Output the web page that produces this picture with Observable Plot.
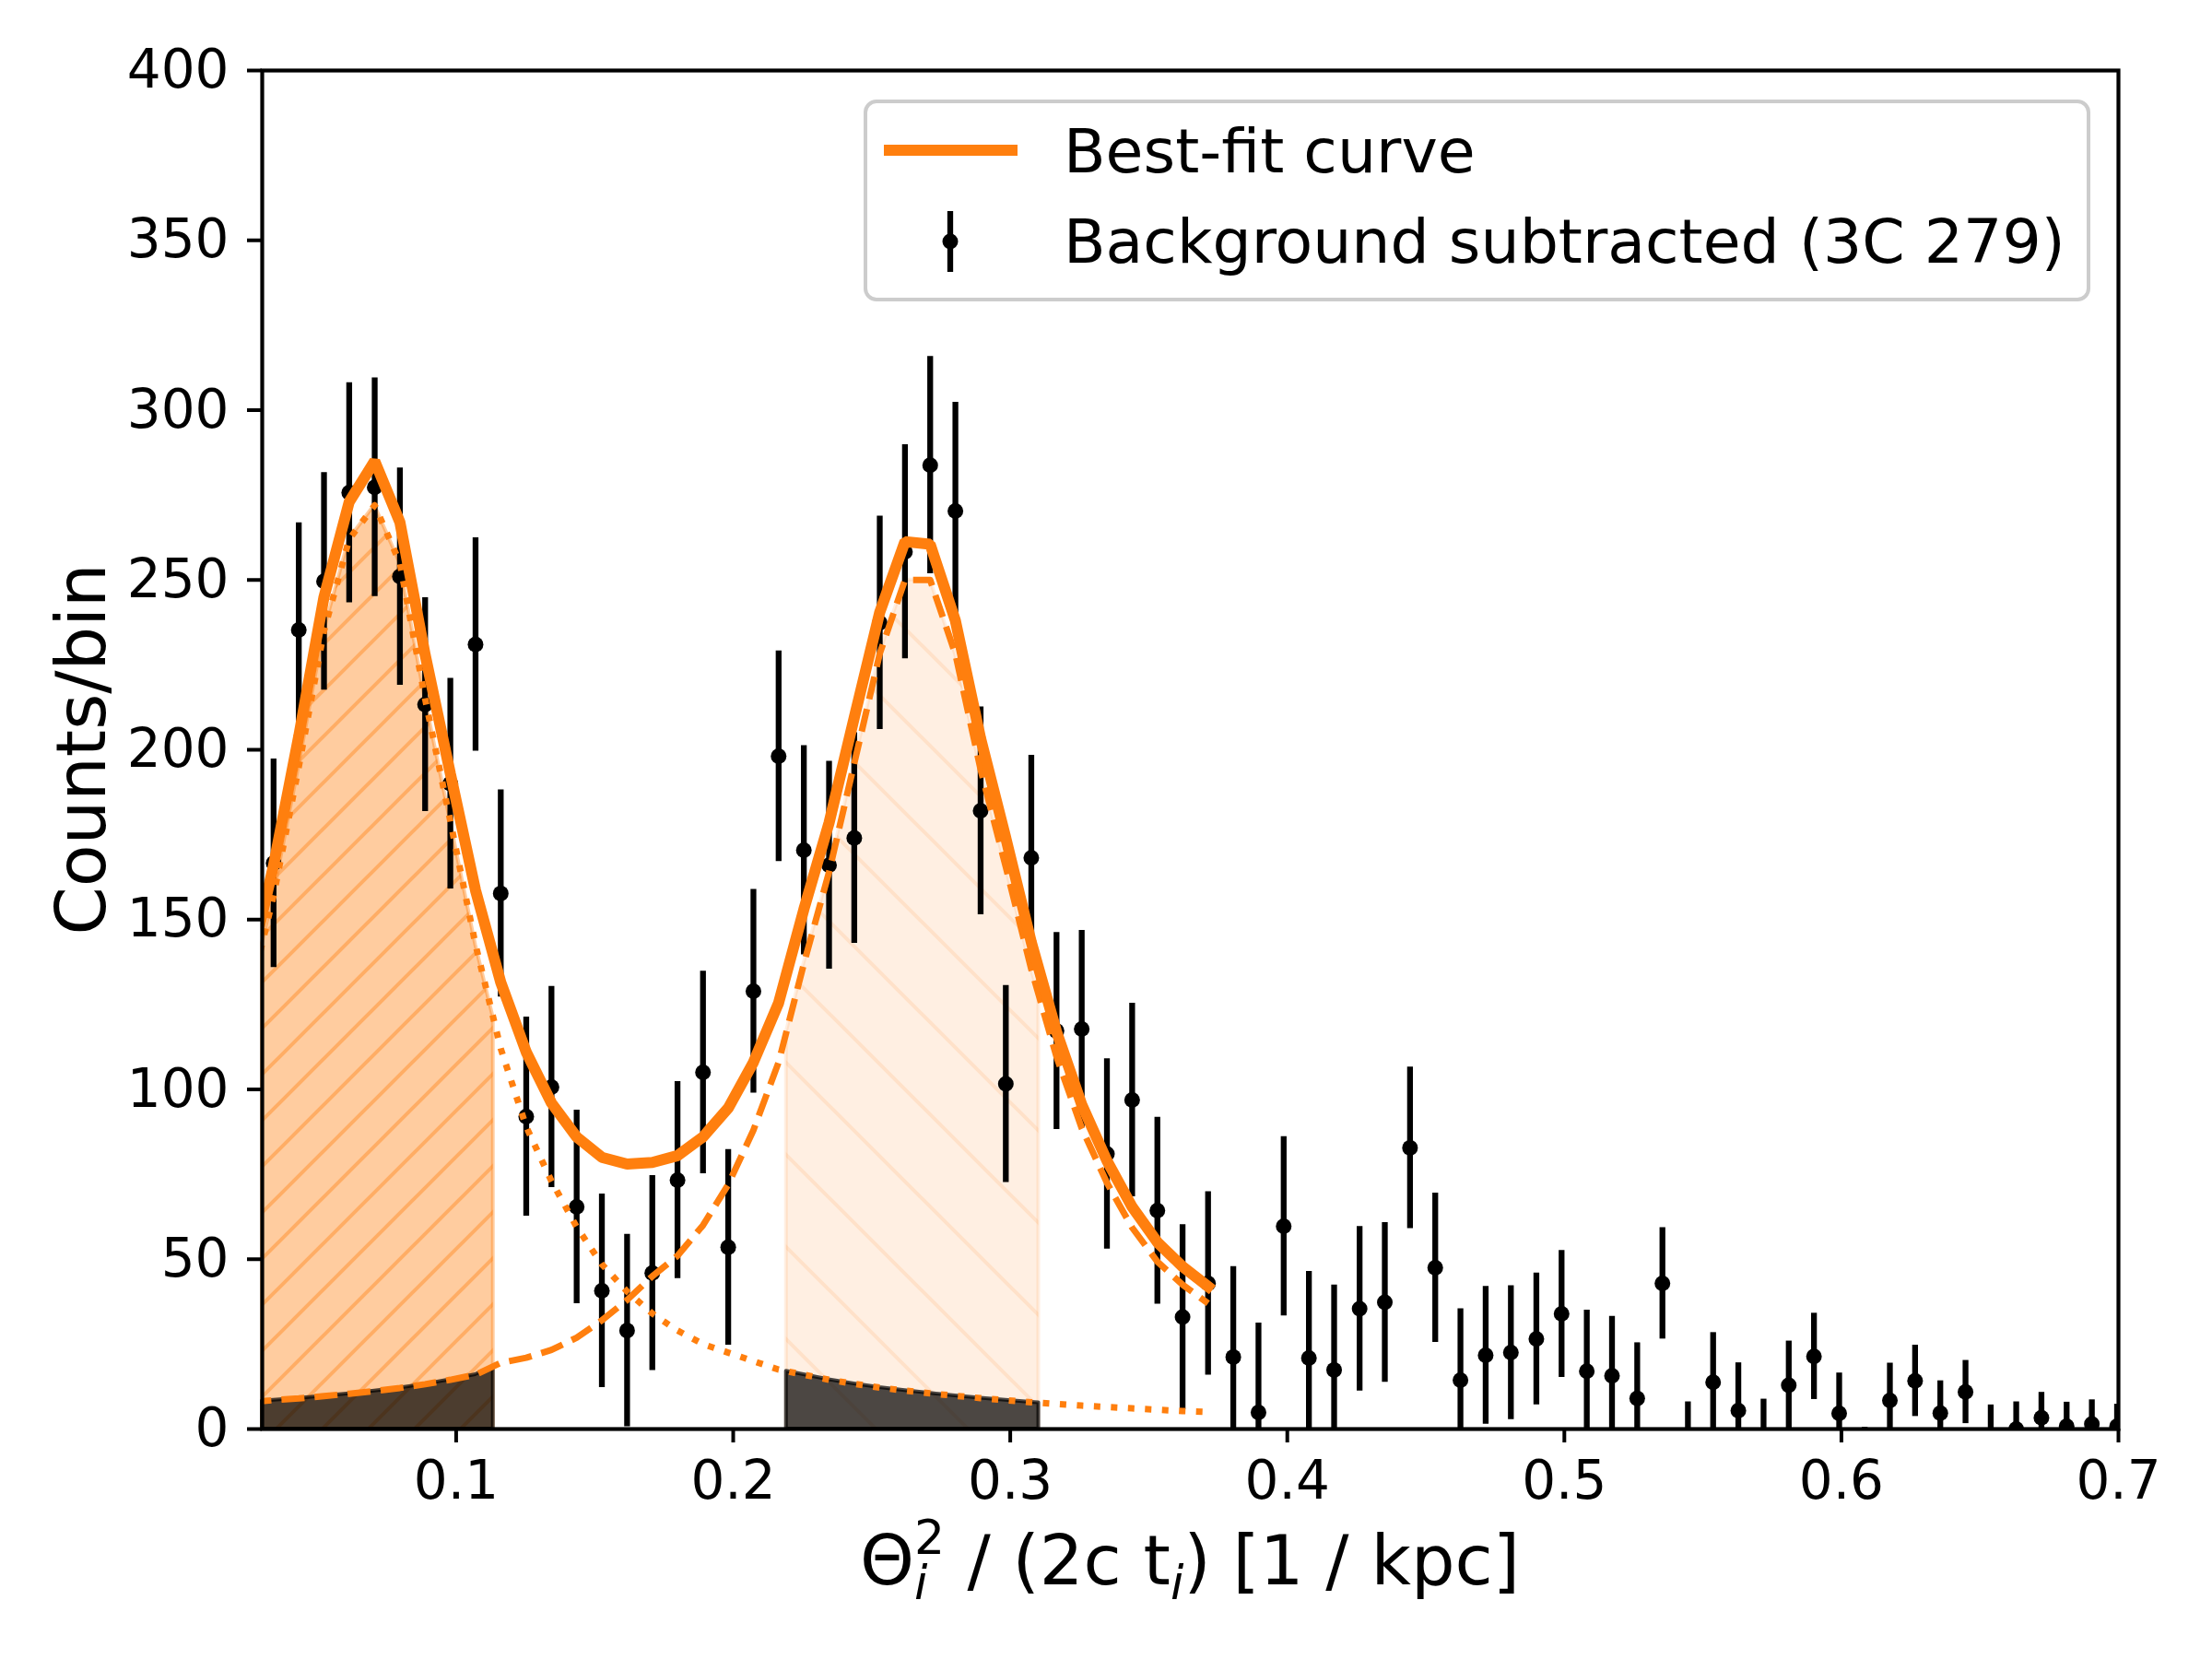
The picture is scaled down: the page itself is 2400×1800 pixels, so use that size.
<!DOCTYPE html>
<html><head><meta charset="utf-8">
<script src="https://cdn.jsdelivr.net/npm/d3@7"></script>
<script src="https://cdn.jsdelivr.net/npm/@observablehq/plot@0.6"></script>
<style>
body{margin:0;background:#fff;}
#chart{width:2400px;height:1800px;}
</style></head><body><div id="chart"></div>
<script>
// ---- data ----
const binX = [0.0341,0.0432,0.0523,0.0614,0.0706,0.0797,0.0888,0.0979,0.1070,0.1161,
  0.1253,0.1344,0.1435,0.1526,0.1617,0.1708,0.1799,0.1891,0.1982,0.2073,
  0.2164,0.2255,0.2346,0.2437,0.2529,0.2620,0.2711,0.2802,0.2893,0.2984,
  0.3076,0.3167,0.3258,0.3349,0.3440,0.3531,0.3622,0.3714,0.3805,0.3896,
  0.3987,0.4078,0.4169,0.4261,0.4352,0.4443,0.4534,0.4625,0.4716,0.4807,
  0.4899,0.4990,0.5081,0.5172,0.5263,0.5354,0.5446,0.5537,0.5628,0.5719,
  0.5810,0.5901,0.5992,0.6084,0.6175,0.6266,0.6357,0.6448,0.6539,0.6631,
  0.6722,0.6813,0.6904,0.6995];
const counts = [166.6,235.3,249.6,275.7,277.3,251,213.3,190,231,157.7,
  92,100.7,65.4,40.7,29,45.9,73.3,105,53.5,128.9,
  198.1,170.4,166,174,237.4,258.3,283.8,270.3,182,101.6,
  168.2,117.2,117.8,81,96.9,64.3,33,42.9,21.2,4.9,
  59.7,20.9,17.4,35.4,37.3,82.8,47.5,14.4,21.7,22.5,
  26.5,33.9,17,15.7,9,42.9,-8,13.8,5.4,-5,
  12.9,21.4,4.6,-11,8.4,14.2,4.7,10.9,-2.5,0,
  3.3,0.8,1.5,0.8];
const countErr = [30.7,31.5,32,32.4,32.2,32,31.5,31,31.4,30.5,
  29.3,29.6,28.5,28.5,28.3,28.7,29,29.8,28.8,30,
  31,30.8,30.6,31,31.4,31.5,32,32,30.6,29,
  30.2,29,29,28,28.5,27.5,27.2,27,26.6,26.3,
  26.4,25.5,25,24.2,23.5,23.8,22,21,20.3,19.7,
  19.4,18.7,18,17.5,16.4,16.4,16,14.6,14.1,13.8,
  13,12.7,11.9,11.5,11,10.5,9.5,9.3,9.6,8,
  7.5,7.1,7.1,6.5];

const curveX = [0.0250,0.0341,0.0432,0.0523,0.0614,0.0706,0.0797,0.0888,0.0979,0.1070,
  0.1161,0.1253,0.1344,0.1435,0.1526,0.1617,0.1708,0.1799,0.1891,0.1982,
  0.2073,0.2164,0.2255,0.2346,0.2437,0.2529,0.2620,0.2711,0.2802,0.2893,
  0.2984,0.3076,0.3167,0.3258,0.3349,0.3440,0.3531,0.3622,0.3714];
const bestFit = [134,166,204,245,273,285,267,228,193,158.6,
  131.5,111,96,86,80,78,78.5,80.5,86,94.5,
  108,125.5,153,178.5,209.5,240.5,261.3,260.5,238,203.3,
  174,143.3,117,95.5,79,65.4,55,47.8,42];
const comp1 = [126,157,195,235,262,272,255,215,179,142.6,
  112,89,73,59.5,48.5,40.5,34,29,25,22.5,
  20,17.5,16,14.5,13.3,12.2,11.3,10.5,9.8,9.1,
  8.5,7.9,7.4,6.9,6.5,6.1,5.7,5.3,5.0];
const comp2 = [7.9,8.5,9.0,9.7,10.4,11.2,12.1,13.2,14.5,16,
  19.5,21,23.3,26.9,32,38,45,51,60,72,
  88,108,137,164,196,228.3,250,250,228.2,194.2,
  165.5,135.4,109.6,88.6,72.5,59.3,49.3,42.5,37];

const window1 = [0.03, 0.1134];
const window2 = [0.2192, 0.3103];
const xDomain = [0.03, 0.7];
const yDomain = [0, 400];
const xTicks = [0.1,0.2,0.3,0.4,0.5,0.6,0.7];
const yTicks = [0,50,100,150,200,250,300,350,400];
const legendLabels = ["Best-fit curve", "Background subtracted (3C 279)"];
const yLabel = "Counts/bin";

// ---- build tables ----
const orange = "#ff7f0e";
const points = binX.map((x,i)=>({x, y:counts[i], e:countErr[i]}));
const curve = curveX.map((x,i)=>({x, fit:bestFit[i], c1:comp1[i], c2:comp2[i]}));
function interp(key, x){
  for (let i=0;i<curve.length-1;i++){
    const a=curve[i], b=curve[i+1];
    if (x>=a.x && x<=b.x){ const t=(x-a.x)/(b.x-a.x); return a[key]+t*(b[key]-a[key]); }
  }
  return NaN;
}
function windowed([lo,hi]){
  const edge = x => ({x, fit:interp("fit",x), c1:interp("c1",x), c2:interp("c2",x)});
  return [edge(lo), ...curve.filter(d=>d.x>lo && d.x<hi), edge(hi)];
}
const w1 = windowed(window1), w2 = windowed(window2);

const plot = Plot.plot({
  width: 2400, height: 1800,
  marginLeft: 284, marginRight: 102, marginTop: 76, marginBottom: 250,
  style: {fontFamily: "DejaVu Sans", background: "white", color: "black"},
  x: {domain: xDomain},
  y: {domain: yDomain},
  marks: [
    Plot.areaY(w1, {x:"x", y:"c1", fill: orange, fillOpacity: 0.4, stroke: orange, strokeOpacity: 0.4, strokeWidth: 4}),
    Plot.areaY(w1, {x:"x", y:"c1", fill: "url(#hatchA)"}),
    Plot.areaY(w2, {x:"x", y:"c2", fill: orange, fillOpacity: 0.12, stroke: orange, strokeOpacity: 0.12, strokeWidth: 4}),
    Plot.areaY(w2, {x:"x", y:"c2", fill: "url(#hatchB)"}),
    Plot.areaY(w1, {x:"x", y:"c2", fill:"black", fillOpacity:0.7, stroke:"black", strokeOpacity:0.7, strokeWidth:4}),
    Plot.areaY(w2, {x:"x", y:"c1", fill:"black", fillOpacity:0.7, stroke:"black", strokeOpacity:0.7, strokeWidth:4}),
    Plot.ruleX(points, {x:"x", y1: d=>d.y-d.e, y2: d=>d.y+d.e, stroke:"black", strokeWidth:6.3, clip:true}),
    Plot.dot(points, {x:"x", y:"y", r:8.5, fill:"black", stroke:"none", clip:true}),
    Plot.line(curve, {x:"x", y:"c2", stroke: orange, strokeWidth: 7, strokeDasharray:"25,11", strokeLinecap:"butt", clip:true}),
    Plot.line(curve, {x:"x", y:"c1", stroke: orange, strokeWidth: 7, strokeDasharray:"7,11.5", strokeLinecap:"butt", clip:true}),
    Plot.line(curve, {x:"x", y:"fit", stroke: orange, strokeWidth: 12, strokeLinejoin:"miter", strokeLinecap:"square", clip:true}),
    Plot.axisX({ticks: xTicks, tickSize: 15, tickPadding: 19, fontSize: 58, strokeWidth: 4, label: null, tickFormat: d=>String(d)}),
    Plot.axisY({ticks: yTicks, tickSize: 16, tickPadding: 20, fontSize: 58, strokeWidth: 4, label: null}),
    Plot.frame({stroke:"black", strokeWidth: 4.2})
  ]
});

const svg = d3.select(plot);
const defs = svg.insert("defs", ":first-child");
const pA = defs.append("pattern").attr("id","hatchA").attr("patternUnits","userSpaceOnUse").attr("width",50).attr("height",50);
pA.append("path").attr("d","M0,50L50,0M-10,10L10,-10M40,60L60,40").attr("stroke",orange).attr("stroke-opacity",0.4).attr("stroke-width",4).attr("fill","none");
const pB = defs.append("pattern").attr("id","hatchB").attr("patternUnits","userSpaceOnUse").attr("width",100).attr("height",100);
pB.append("path").attr("d","M0,0L100,100M-10,90L10,110M90,-10L110,10").attr("stroke",orange).attr("stroke-opacity",0.12).attr("stroke-width",4).attr("fill","none");

// legend
const lg = svg.append("g").attr("font-family","DejaVu Sans").attr("text-anchor","start");
lg.append("rect").attr("x",939).attr("y",110).attr("width",1327).attr("height",215).attr("rx",12)
  .attr("fill","white").attr("fill-opacity",0.8).attr("stroke","#cccccc").attr("stroke-width",4);
lg.append("line").attr("x1",959).attr("x2",1104).attr("y1",163).attr("y2",163).attr("stroke",orange).attr("stroke-width",12);
lg.append("line").attr("x1",1031).attr("x2",1031).attr("y1",229).attr("y2",295).attr("stroke","black").attr("stroke-width",6.3);
lg.append("circle").attr("cx",1031).attr("cy",262).attr("r",8.5).attr("fill","black");
lg.append("text").attr("x",1154).attr("y",187).attr("font-size",66.5).attr("fill","black").attr("text-anchor","start").text(legendLabels[0]);
lg.append("text").attr("x",1154).attr("y",285).attr("font-size",66.5).attr("fill","black").attr("text-anchor","start").text(legendLabels[1]);

// axis titles
svg.append("text").attr("transform","translate(114,813) rotate(-90)").attr("text-anchor","middle")
  .attr("font-size",75).attr("font-family","DejaVu Sans").attr("fill","black").text(yLabel);
const xt = svg.append("text").attr("x",1291).attr("y",1719).attr("text-anchor","middle")
  .attr("font-size",75).attr("font-family","DejaVu Sans").attr("fill","black");
xt.append("tspan").text("Θ");
xt.append("tspan").attr("font-size",52).attr("dy",-33).text("2");
xt.append("tspan").attr("font-size",52).attr("font-style","italic").attr("dx",-33).attr("dy",49).text("i");
xt.append("tspan").attr("dx",19).attr("dy",-16).text(" / (2c t");
xt.append("tspan").attr("font-size",52).attr("font-style","italic").attr("dy",16).text("i");
xt.append("tspan").attr("dy",-16).text(") [1 / kpc]");

document.getElementById("chart").appendChild(plot);
</script></body></html>
